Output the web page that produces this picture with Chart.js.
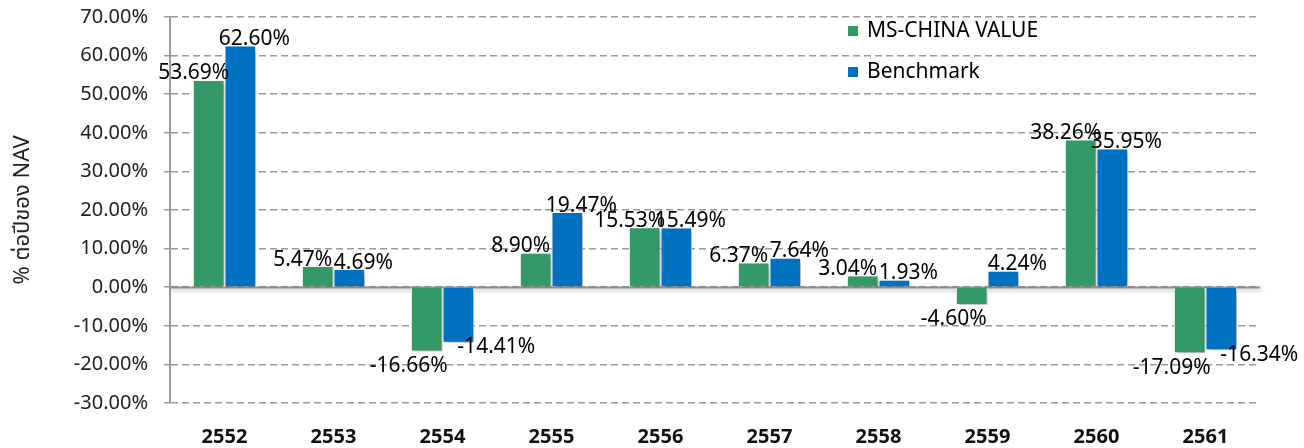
<!DOCTYPE html>
<html>
<head>
<meta charset="utf-8">
<script src="https://cdn.jsdelivr.net/npm/chart.js@4"></script>
<style>
  html, body { margin: 0; padding: 0; background: #fff; }
  #wrap { width: 1304px; height: 448px; }
</style>
</head>
<body>
<div id="wrap"><canvas id="chart" width="1304" height="448"></canvas></div>
<script>
  // data
  const years = ["2552", "2553", "2554", "2555", "2556", "2557", "2558", "2559", "2560", "2561"];
  const fundValues = [53.69, 5.47, -16.66, 8.90, 15.53, 6.37, 3.04, -4.60, 38.26, -17.09];
  const benchValues = [62.60, 4.69, -14.41, 19.47, 15.49, 7.64, 1.93, 4.24, 35.95, -16.34];
  const seriesNames = ["MS-CHINA VALUE", "Benchmark"];
  const seriesColors = ["#339966", "#0070C0"];

  const FONT = "'Noto Sans', 'Noto Sans Thai', 'DejaVu Sans', sans-serif";

  // shadow under bars
  const shadowPlugin = {
    id: "barShadow",
    beforeDatasetsDraw(chart) {
      const ctx = chart.ctx;
      ctx.save();
      ctx.shadowColor = "rgba(0,0,0,0.35)";
      ctx.shadowBlur = 5;
      ctx.shadowOffsetX = 2;
      ctx.shadowOffsetY = 2;
    },
    afterDatasetsDraw(chart) {
      chart.ctx.restore();
    }
  };

  // solid zero line
  const zeroLinePlugin = {
    id: "zeroLine",
    beforeDatasetsDraw(chart) {
      const { ctx, chartArea, scales } = chart;
      const y = Math.round(scales.y.getPixelForValue(0)) + 0.5;
      ctx.save();
      ctx.strokeStyle = "#8c8c8c";
      ctx.lineWidth = 2;
      ctx.beginPath();
      ctx.moveTo(chartArea.left, y);
      ctx.lineTo(chartArea.right, y);
      ctx.stroke();
      ctx.restore();
    }
  };

  // value labels
  const valueLabels = {
    id: "valueLabels",
    afterDatasetsDraw(chart) {
      const ctx = chart.ctx;
      ctx.save();
      ctx.font = "21px " + FONT;
      ctx.fillStyle = "#000";
      ctx.textAlign = "center";
      chart.data.datasets.forEach((ds, i) => {
        const meta = chart.getDatasetMeta(i);
        meta.data.forEach((el, j) => {
          const v = ds.data[j];
          const txt = v.toFixed(2) + "%";
          if (v >= 0) {
            ctx.textBaseline = "bottom";
            ctx.fillText(txt, el.x + (i === 0 ? -15 : 14), el.y + 4);
          } else if (i === 0) {
            ctx.textBaseline = "top";
            ctx.fillText(txt, el.x - 18, el.y + 4);
          } else {
            ctx.textBaseline = "top";
            ctx.fillText(txt, el.x + 38, el.y - 6);
          }
        });
      });
      ctx.restore();
    }
  };

  // legend inside the plot, top right
  const innerLegend = {
    id: "innerLegend",
    afterDraw(chart) {
      const ctx = chart.ctx;
      const x0 = chart.chartArea.left + 678;
      const y0 = chart.chartArea.top + 14;
      ctx.save();
      ctx.font = "21px " + FONT;
      ctx.textBaseline = "middle";
      ctx.textAlign = "left";
      chart.data.datasets.forEach((ds, i) => {
        const y = y0 + i * 41;
        ctx.fillStyle = ds.backgroundColor;
        ctx.fillRect(x0, y - 5, 10, 10);
        ctx.fillStyle = "#000";
        ctx.fillText(ds.label, x0 + 19, y);
      });
      ctx.restore();
    }
  };

  new Chart(document.getElementById("chart"), {
    type: "bar",
    data: {
      labels: years,
      datasets: [
        { label: seriesNames[0], data: fundValues, backgroundColor: seriesColors[0] },
        { label: seriesNames[1], data: benchValues, backgroundColor: seriesColors[1] }
      ]
    },
    options: {
      responsive: false,
      animation: false,
      layout: { padding: { top: 17, right: 44, left: 0, bottom: 0 } },
      datasets: {
        bar: {
          borderColor: "#ffffff",
          borderWidth: 1,
          categoryPercentage: 0.58,
          barPercentage: 1
        }
      },
      plugins: {
        legend: { display: false },
        tooltip: { enabled: false }
      },
      scales: {
        x: {
          grid: { display: false },
          border: { display: false },
          ticks: {
            color: "#111",
            padding: 14,
            font: { family: FONT, size: 20, weight: "bold" }
          },
          afterFit(scale) {
            scale.height = 45;
            scale.paddingLeft = 0;
            scale.paddingRight = 0;
          }
        },
        y: {
          min: -30,
          max: 70,
          ticks: {
            stepSize: 10,
            color: "#222",
            padding: 16,
            font: { family: FONT, size: 20 },
            callback: v => v.toFixed(2) + "%"
          },
          grid: {
            color: "#9a9a9a",
            lineWidth: 1.5,
            tickLength: 6,
            tickColor: "#9a9a9a",
            tickBorderDash: [0, 0]
          },
          border: { display: true, color: "#9a9a9a", width: 2, dash: [7, 4] },
          title: {
            display: true,
            text: "% ต่อปีของ NAV",
            color: "#222",
            font: { family: FONT, size: 22 },
            padding: { top: 10, bottom: 4 }
          },
          afterFit(scale) {
            scale.width = 170;
            scale.paddingTop = 0;
            scale.paddingBottom = 0;
          }
        }
      }
    },
    plugins: [shadowPlugin, zeroLinePlugin, valueLabels, innerLegend]
  });
</script>
</body>
</html>
